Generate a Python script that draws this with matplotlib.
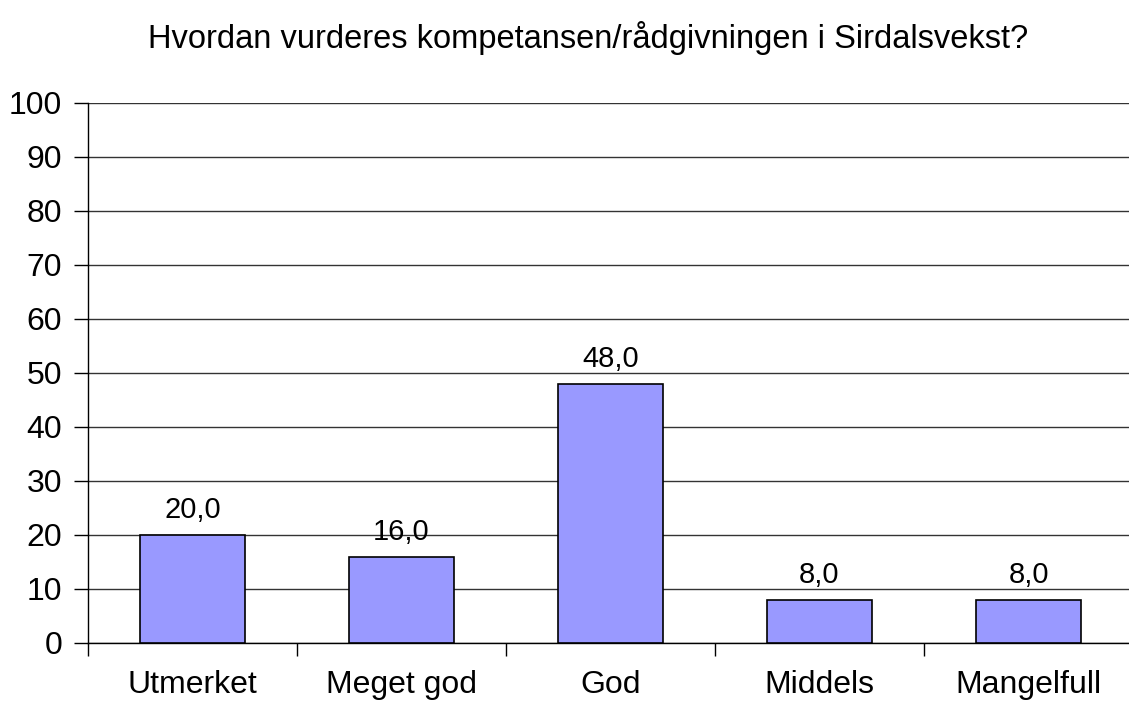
import matplotlib.pyplot as plt

plt.rcParams['font.family'] = ['Liberation Sans', 'DejaVu Sans']

# Data
categories = ['Utmerket', 'Meget god', 'God', 'Middels', 'Mangelfull']
values = [20.0, 16.0, 48.0, 8.0, 8.0]

fig = plt.figure(figsize=(11.29, 7.02), dpi=100)
ax = fig.add_axes([88 / 1129, 1 - 643 / 702, 1045 / 1129, 540 / 702])

x = range(len(categories))
ax.bar(x, values, width=0.5, color='#9999FF', edgecolor='black', linewidth=1.2, zorder=3)

# Value labels
for xi, v in zip(x, values):
    ax.text(xi, v + 2.0, f'{v:.1f}'.replace('.', ','), ha='center', va='bottom', fontsize=21)

ax.set_xlim(-0.5, len(categories) - 0.5)
ax.set_ylim(0, 100)
ax.set_yticks(range(0, 101, 10))
ax.yaxis.grid(True, color='#333333', linewidth=1, zorder=0)
ax.tick_params(axis='y', labelsize=23, length=10, width=1, pad=8.5)

# Category labels at centers, tick marks at boundaries
ax.set_xticks([i - 0.5 for i in range(len(categories) + 1)])
ax.set_xticklabels([])
ax.set_xticks(list(x), minor=True)
ax.set_xticklabels(categories, minor=True, fontsize=23)
ax.tick_params(axis='x', which='major', length=9, width=1)
ax.tick_params(axis='x', which='minor', length=0, pad=19.5)

for s in ['top', 'right']:
    ax.spines[s].set_visible(False)
ax.spines['left'].set_linewidth(1)
ax.spines['bottom'].set_linewidth(1)

fig.text(588 / 1129, 1 - 38 / 702, 'Hvordan vurderes kompetansen/rådgivningen i Sirdalsvekst?',
         ha='center', va='center', fontsize=23.5)

fig.savefig('out.png', dpi=100)
